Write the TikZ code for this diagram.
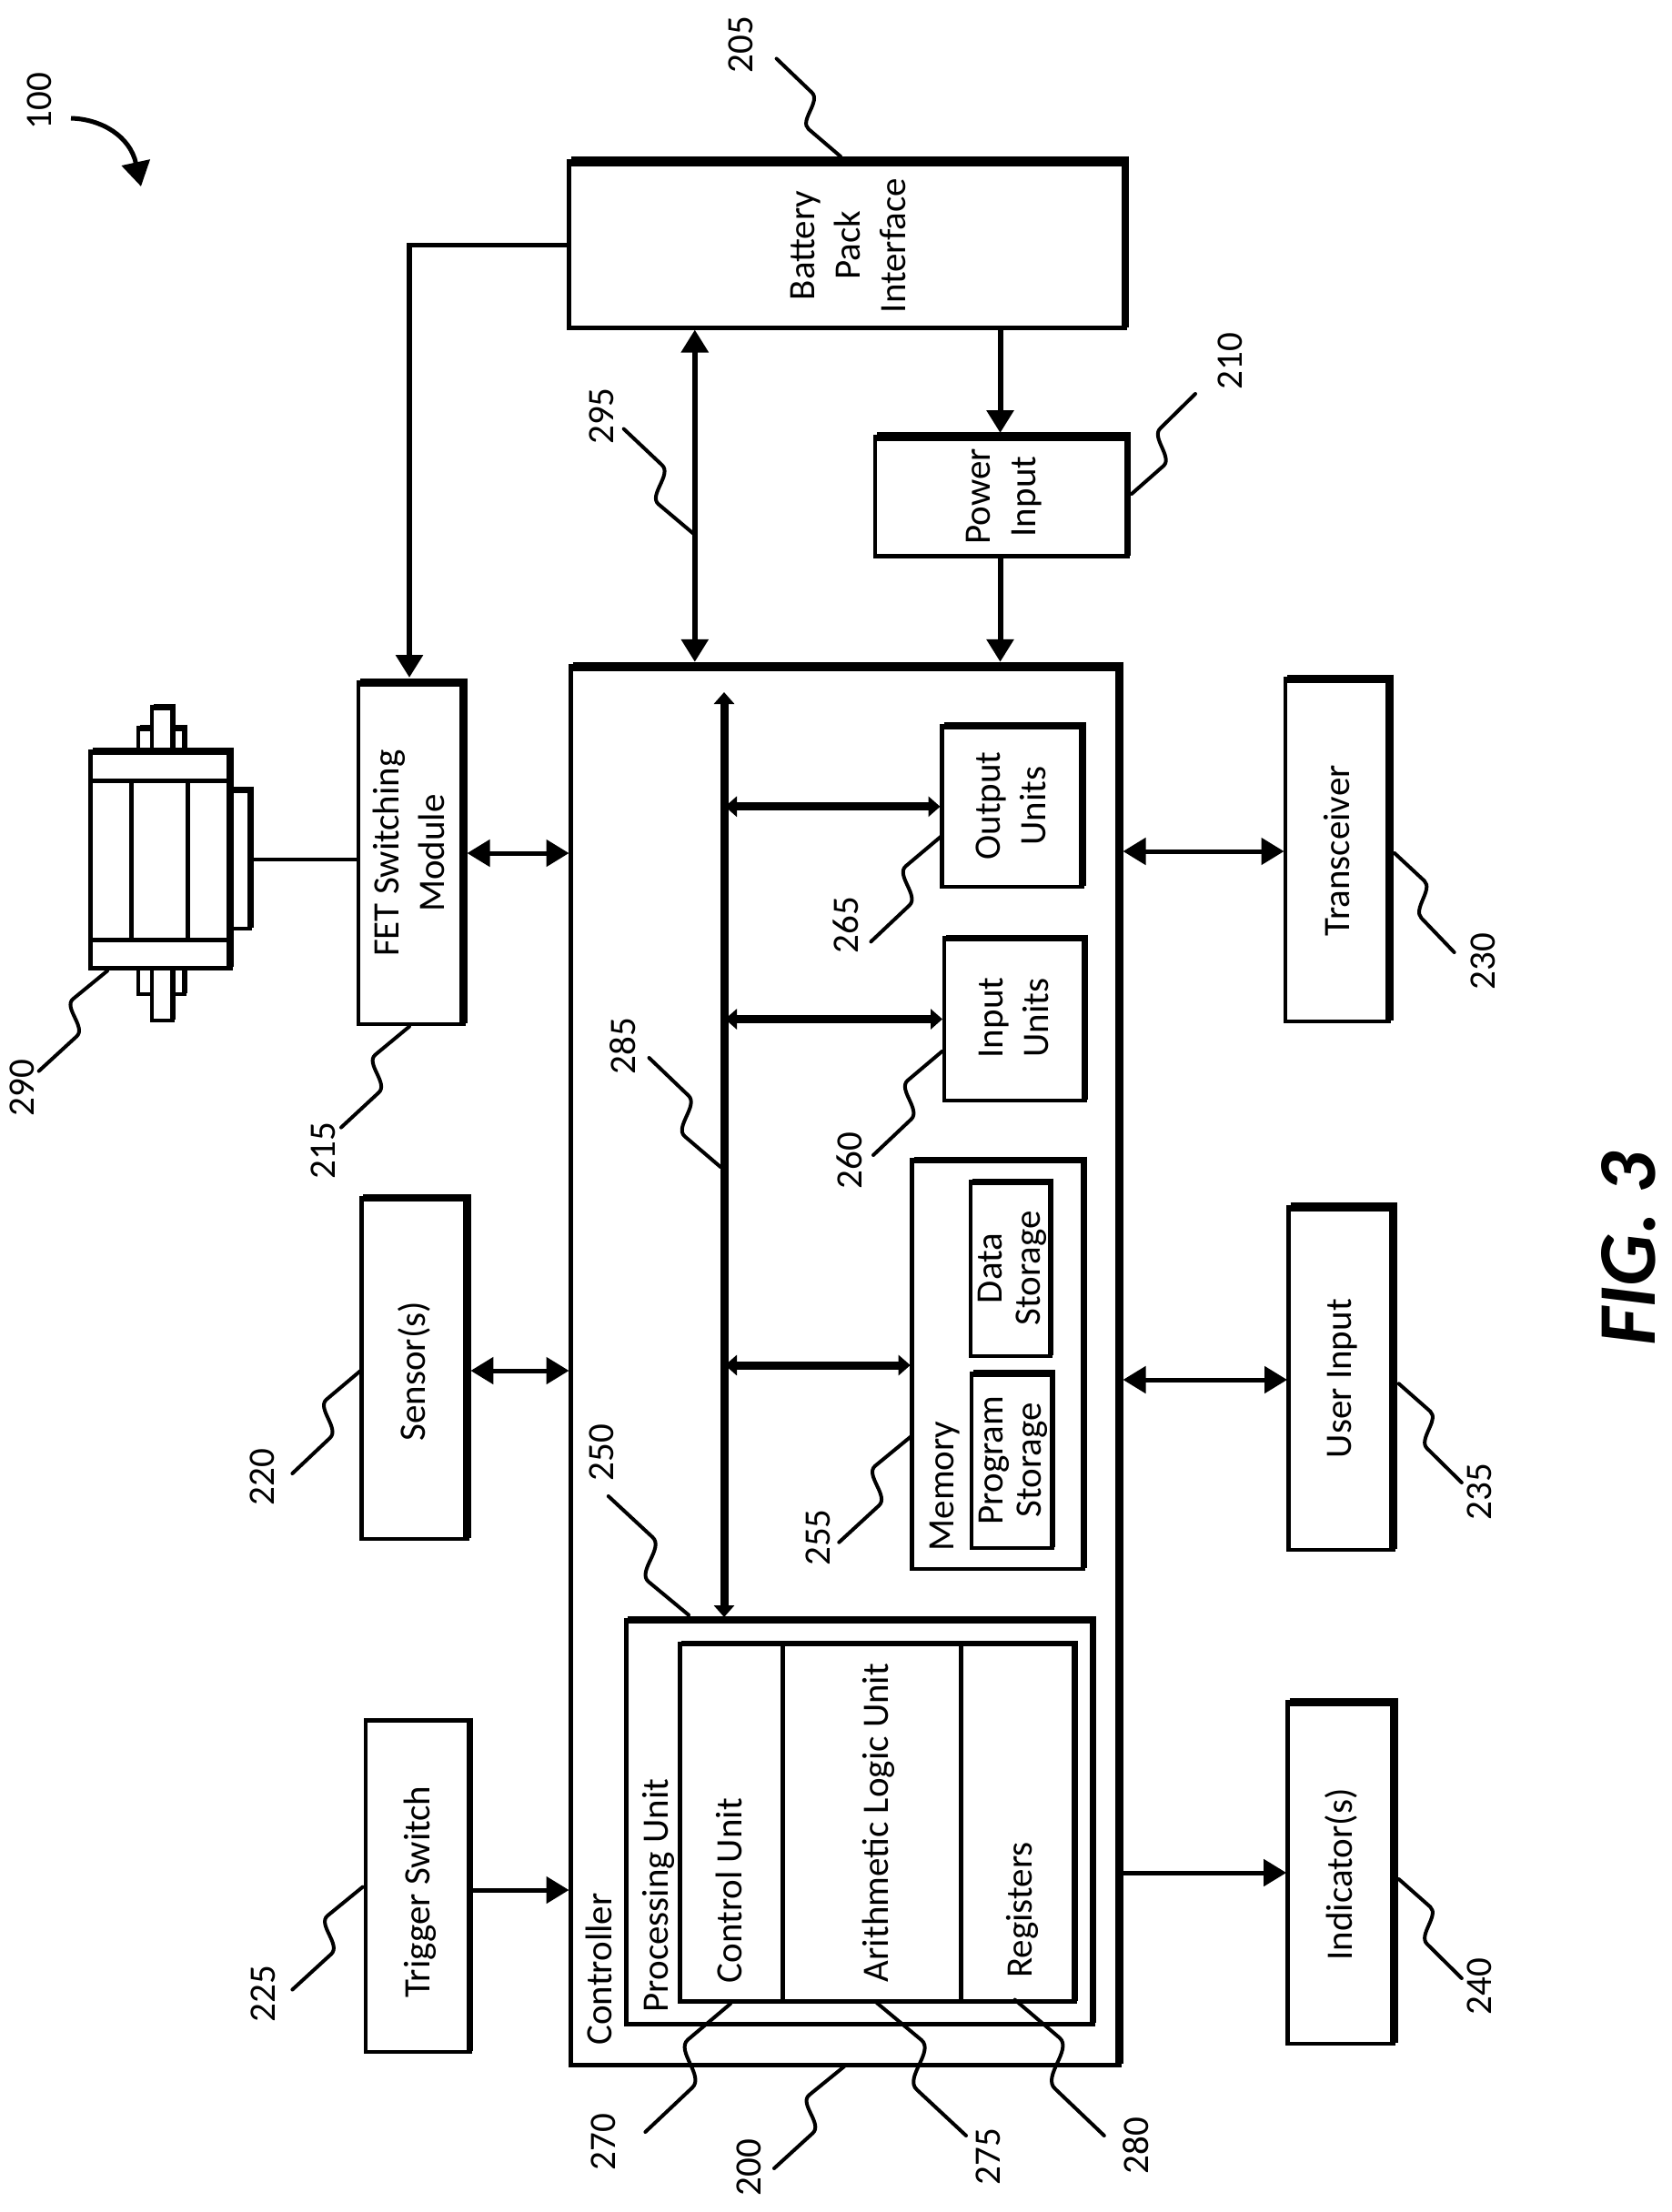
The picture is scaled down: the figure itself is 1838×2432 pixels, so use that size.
\documentclass[tikz,border=0pt]{standalone}
\usepackage{fontspec}
\setmainfont{Carlito}
\usetikzlibrary{arrows.meta,calc}
\tikzset{
  boxn/.style={draw=black,fill=white,rectangle,inner sep=0pt,outer sep=0pt,line width=#1},
  boxn/.default=4.5pt,
  txt/.style={rotate=90,inner sep=0pt,outer sep=0pt,align=center,font=\fontsize{41}{50}\selectfont},
  txtn/.style={rotate=90,inner sep=0pt,outer sep=0pt,align=center,font=\fontsize{41}{42}\selectfont},
  figt/.style={rotate=90,inner sep=0pt,outer sep=0pt,font=\fontsize{90}{100}\selectfont\bfseries\itshape},
  leader/.style={draw=black,line width=4pt,line cap=round,line join=round},
  wire/.style={draw=black,line width=5pt},
  wireb/.style={draw=black,line width=6pt},
  one/.style={wire,-{Triangle[length=25pt,width=29pt]}},
  oneb/.style={wireb,-{Triangle[length=25pt,width=29pt]}},
  two/.style={wire,{Triangle[length=25pt,width=29pt]}-{Triangle[length=25pt,width=29pt]}},
  twob/.style={wireb,{Triangle[length=25pt,width=29pt]}-{Triangle[length=25pt,width=29pt]}},
  busline/.style={draw=black,line width=9pt,{Triangle[length=13pt,width=22pt]}-{Triangle[length=13pt,width=22pt]}},
  plain/.style={draw=black,line width=#1},
  plain/.default=5pt
}
% box: name, x1,y1,x2,y2, thin, top width, right width
\newcommand{\bx}[8]{%
  \pgfmathsetmacro{\bxw}{#4-#2}\pgfmathsetmacro{\bxh}{#5-#3}%
  \pgfmathsetmacro{\bxcx}{(#2+#4)/2}\pgfmathsetmacro{\bxcy}{(#3+#5)/2}%
  \pgfmathsetmacro{\bxr}{#8/2}\pgfmathsetmacro{\bxt}{#7/2}%
  \node[boxn=#6,minimum width=\bxw pt,minimum height=\bxh pt] (#1) at (\bxcx,\bxcy) {};
  \draw[line width=#7pt] ([xshift=2pt]#1.north west) -- ([xshift=\bxr pt]#1.north east);
  \draw[line width=#8pt] ([yshift=\bxt pt]#1.north east) -- ([yshift=1pt]#1.south east);
}
% text whose centre is given
\newcommand{\tx}[4]{\node[txt] (#1) at (#2,#3) {#4};}
\newcommand{\txn}[4]{\node[txtn] (#1) at (#2,#3) {#4};}
% number: value, baseline x, centre y
\newcommand{\nm}[3]{\node[txt] (n#1) at ({#2-10},#3) {\strut #1};}
% leader from outer coordinate to inner coordinate
\newcommand{\lead}[3]{%
  \coordinate (la#1) at (#2);\coordinate (lb#1) at (#3);
  \draw[leader] let \p1=(la#1),\p2=(lb#1),\n1={\x2-\x1},\n2={\y2-\y1} in
    (la#1) -- ({\x1+.55*\n1},{\y1+.345*\n2})
    .. controls ({\x1+.70*\n1},{\y1+.435*\n2}) and ({\x1+.35*\n1},{\y1+.635*\n2}) ..
    ({\x1+.50*\n1},{\y1+.72*\n2}) -- (lb#1);
}
\begin{document}
\begin{tikzpicture}[x=1pt,y=-1pt]
\useasboundingbox (0,0) rectangle (1838,2432);

% Main boxes
\bx{batt}{625.5}{177.5}{1237}{360.5}{4.5}{11}{8}
\bx{pwr}{962}{480}{1239.5}{611.5}{4.5}{9.5}{7}
\bx{ctrl}{627.5}{732.8}{1230}{2270}{5}{10.5}{9}
\bx{fet}{394}{750}{509.5}{1125.5}{4}{9}{8.5}
\bx{sens}{397.3}{1317}{513.4}{1692}{4.5}{8}{8.5}
\bx{trig}{401.8}{1891}{516.5}{2256}{4.5}{5}{7}
\bx{trans}{1413}{746}{1527}{1123}{4.5}{9}{9}
\bx{user}{1416.5}{1327}{1531.7}{1704}{4.5}{10}{9}
\bx{indic}{1415.6}{1871}{1532}{2247}{4.5}{9}{9}

% Controller interior
\bx{pu}{688.4}{1781}{1201}{2225}{5}{8}{7}
\bx{inner}{747}{1807}{1181}{2200.5}{5}{6}{7}
\draw[plain] (inner.north -| 860,0) -- (inner.south -| 860,0);
\draw[plain] (inner.north -| 1056.7,0) -- (inner.south -| 1056.7,0);
\bx{outp}{1035.5}{798}{1190}{975}{4.5}{7.5}{8}
\bx{inp}{1038}{1031}{1192.6}{1209.8}{4.5}{7}{7.5}
\bx{mem}{1002.7}{1275}{1191}{1725}{4.5}{7}{7}
\bx{dat}{1067}{1299}{1155}{1491}{4.5}{7}{6}
\bx{prog}{1068}{1510}{1157}{1702}{4.5}{8}{6}

% Motor
\bx{stepT}{152}{800}{203}{826}{4}{7}{6}
\bx{shaftT}{167}{777}{190}{826}{4}{7}{6}
\bx{stepB}{152}{1064}{203}{1093}{4}{4}{6}
\bx{shaftB}{167}{1064}{190}{1122}{4}{4}{6}
\bx{cap}{254}{868}{275}{1021}{4}{7}{7}
\bx{motor}{99.5}{826}{253}{1064}{5}{8}{8}
\draw[plain] (motor.west |- 0,858) -- (motor.east |- 0,858);
\draw[plain] (motor.west |- 0,1033) -- (motor.east |- 0,1033);
\draw[plain] (144,858) -- (144,1033);
\draw[plain] (206.5,858) -- (206.5,1033);

% Connectors
\draw[wire] (batt.west |- 0,270) -- (450,270) coordinate (fetcorner);
\draw[oneb] (fetcorner) ++(0,-2.5) -- ([yshift=5pt]fet.north -| fetcorner);
\draw[twob] ([yshift=-2pt]batt.south -| 763.8,0) -- ([yshift=5pt]ctrl.north -| 763.8,0);
\draw[oneb] (batt.south -| 1099.5,0) -- ([yshift=4pt]pwr.north -| 1099.5,0);
\draw[oneb] (pwr.south -| 1099.5,0) -- ([yshift=5pt]ctrl.north -| 1099.5,0);
\draw[plain=4.5pt] ([xshift=3pt]cap.east) |- (fet.west |- 0,945);
\draw[two] ([xshift=4pt]fet.east |- 0,938) -- ([xshift=-2pt]ctrl.west |- 0,938);
\draw[two] ([xshift=4pt]sens.east |- 0,1507) -- ([xshift=-2pt]ctrl.west |- 0,1507);
\draw[one] ([xshift=3pt]trig.east |- 0,2078) -- ([xshift=-2pt]ctrl.west |- 0,2078);
\draw[two] ([xshift=4.5pt]ctrl.east |- 0,936) -- ([xshift=-1.5pt]trans.west |- 0,936);
\draw[two] ([xshift=4.5pt]ctrl.east |- 0,1517) -- ([xshift=-1.5pt]user.west |- 0,1517);
\draw[one] ([xshift=4.5pt]ctrl.east |- 0,2059) -- ([xshift=-1.5pt]indic.west |- 0,2059);

% Bus
\coordinate (busT) at (796,761);
\coordinate (busB) at (796,1778);
\draw[busline] (busT) -- (busB);
\draw[busline] ([xshift=1pt]busT |- 0,886.8) -- ([xshift=-2pt]outp.west |- 0,886.8);
\draw[busline] ([xshift=1pt]busT |- 0,1120.5) -- ([xshift=-2pt]inp.west |- 0,1120.5);
\draw[busline] ([xshift=1pt]busT |- 0,1501) -- ([xshift=-2pt]mem.west |- 0,1501);

% Arrow 100
\coordinate (a100) at (78,130);
\coordinate (b100) at (155,205);
\draw[line width=5pt,-{Triangle[length=27pt,width=31pt]}] (a100) .. controls (112,131) and (143,150) .. (b100);

% Texts
\tx{tbatt}{935}{270}{\strut Battery\\\strut Pack\\\strut Interface}
\tx{tpwr}{1103}{546}{\strut Power\\\strut Input}
\tx{tfet}{453}{938}{\strut FET Switching\\\strut Module}
\tx{tsens}{457.4}{1507.6}{\strut Sensor(s)}
\tx{ttrig}{462}{2080}{\strut Trigger Switch}
\tx{ttrans}{1473}{935.3}{\strut Transceiver}
\tx{tuser}{1475}{1515.7}{\strut User Input}
\tx{tindic}{1476}{2061}{\strut Indicator(s)}
\tx{toutp}{1114}{886}{\strut Output\\\strut Units}
\tx{tinp}{1117}{1119}{\strut Input\\\strut Units}
\txn{tdat}{1113.6}{1394.5}{\strut Data\\\strut Storage}
\txn{tprog}{1114.6}{1605.5}{\strut Program\\\strut Storage}
\tx{tmem}{1038}{1634}{\strut Memory}
\tx{tcontroller}{662.8}{2165}{\strut Controller}
\tx{tpu}{724}{2084}{\strut Processing Unit}
\tx{tcu}{805.6}{2078.6}{\strut Control Unit}
\tx{talu}{966.3}{2004}{\strut Arithmetic Logic Unit}
\tx{treg}{1124}{2100}{\strut Registers}
\node[figt] (tfig) at (1790,1373) {FIG. 3};

% Numbers
\nm{100}{56}{111}
\nm{205}{827}{49}
\nm{210}{1365}{397}
\nm{295}{674}{457.5}
\nm{290}{37.3}{1196}
\nm{215}{368}{1265}
\nm{220}{301}{1624}
\nm{225}{302}{2192}
\nm{230}{1643}{1057}
\nm{235}{1639}{1640}
\nm{240}{1639}{2184}
\nm{250}{674}{1597}
\nm{255}{912}{1690.5}
\nm{260}{947}{1276}
\nm{265}{943.7}{1017}
\nm{270}{676.8}{2355}
\nm{200}{836.6}{2383}
\nm{275}{1099}{2371}
\nm{280}{1262}{2359}
\nm{285}{698}{1150}

% Leaders
\lead{205}{853.6,64.5}{924,172}
\lead{210}{1314,433}{1244,543}
\lead{295}{685.7,471.6}{762,586.5}
\lead{290}{42.7,1177.6}{118,1067.4}
\lead{215}{375,1239.6}{450,1128.6}
\lead{220}{321.4,1620}{396.4,1507}
\lead{225}{321.4,2187.5}{398.7,2074.6}
\lead{230}{1598.6,1047}{1533,938}
\lead{235}{1606.8,1630}{1537.7,1521.3}
\lead{240}{1606.8,2175}{1537.7,2066}
\lead{250}{668.8,1645}{757,1775.6}
\lead{255}{922.3,1695.7}{1001.8,1579}
\lead{260}{960,1270}{1035.5,1156}
\lead{265}{957.4,1035.3}{1034,920}
\lead{270}{709.4,2344}{803,2203}
\lead{275}{1062,2348}{963.8,2202}
\lead{280}{1213.8,2348}{1115.6,2198.6}
\lead{200}{851,2384}{928,2272}
\lead{285}{713.5,1163}{792,1283}
\end{tikzpicture}
\end{document}
